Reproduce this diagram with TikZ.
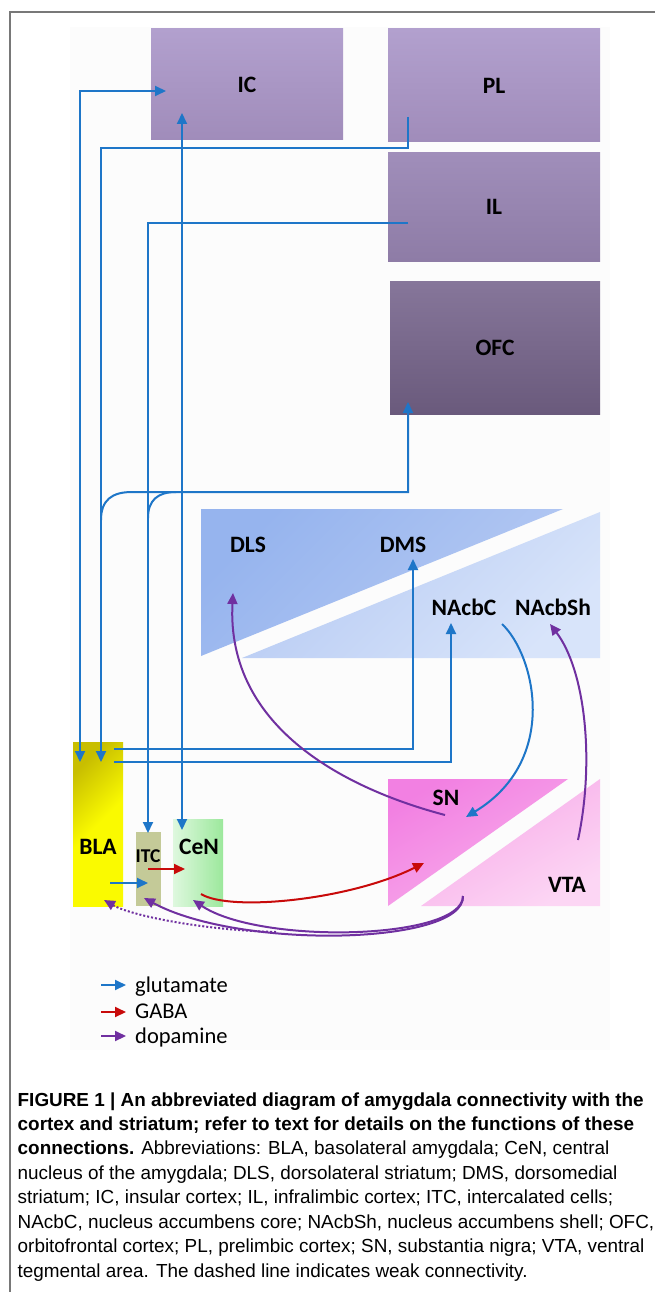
\documentclass[tikz,border=0pt]{standalone}
\usepackage{fontspec}
\setmainfont{Carlito}
\newfontfamily\capfont{Liberation Sans}
\usetikzlibrary{arrows.meta,calc}
\definecolor{glublue}{RGB}{30,118,200}
\definecolor{gabared}{RGB}{200,10,10}
\definecolor{dopapurple}{RGB}{112,48,160}
\definecolor{frameg}{RGB}{120,120,120}
\definecolor{cortextop}{RGB}{178,160,206}
\definecolor{cortexbot}{RGB}{160,140,186}
\definecolor{iltop}{RGB}{160,142,186}
\definecolor{ilbot}{RGB}{142,124,166}
\definecolor{ofctop}{RGB}{134,118,154}
\definecolor{ofcbot}{RGB}{106,90,124}
\definecolor{stridark}{RGB}{150,180,238}
\definecolor{strimid}{RGB}{182,202,243}
\definecolor{strilight}{RGB}{216,228,250}
\definecolor{sndark}{RGB}{242,128,226}
\definecolor{snlight}{RGB}{248,176,236}
\definecolor{vtadark}{RGB}{247,168,232}
\definecolor{vtalight}{RGB}{252,214,244}
\definecolor{blaolive}{RGB}{200,190,0}
\definecolor{blayellow}{RGB}{250,250,0}
\definecolor{itcgreen}{RGB}{196,202,152}
\definecolor{cenlight}{RGB}{222,248,222}
\definecolor{cendark}{RGB}{156,232,156}
\tikzset{
  region/.style={draw=none,inner sep=0pt,font=\bfseries\fontsize{23.5}{26}\selectfont},
  lbl/.style={inner sep=0pt,font=\bfseries\fontsize{23.5}{26}\selectfont},
  legtxt/.style={anchor=base west,inner sep=0pt,font=\fontsize{22.5}{25}\selectfont},
  glu/.style={draw=glublue,line width=2pt},
  gaba/.style={draw=gabared,line width=2pt},
  dopa/.style={draw=dopapurple,line width=2pt},
  >={Triangle[length=11pt,width=10pt]}
}

\begin{document}
\begin{tikzpicture}[x=1pt,y=-1pt]
\useasboundingbox[fill=white] (0,0) rectangle (655,1292);
\fill[gray!2] (70,27) rectangle (610,1050);
\draw[frameg,line width=1.5pt] (655,12) -- (10,12) -- (10,1292);

% cortex
\node[region,top color=cortextop,bottom color=cortexbot,minimum width=192pt,minimum height=111pt] (ic) at (247,84.5) {IC};
\node[region,top color=cortextop,bottom color=cortexbot,minimum width=212pt,minimum height=113pt] (pl) at (494,85.5) {PL};
\node[region,top color=iltop,bottom color=ilbot,minimum width=212pt,minimum height=108pt] (il) at (494,207) {IL};
\node[region,top color=ofctop,bottom color=ofcbot,minimum width=210pt,minimum height=133pt] (ofc) at (495,347.5) {OFC};

% striatum
\shade[top color=stridark,bottom color=strimid,shading angle=45] (201,509) -- (563,509) -- (201,656) -- cycle;
\shade[top color=strimid,bottom color=strilight,shading angle=45] (242,658) -- (600,512) -- (600,658) -- cycle;
\node[lbl] (dls) at (248,545) {DLS};
\node[lbl] (dms) at (403,545) {DMS};
\node[lbl] (nacbc) at (464,607) {NAcbC};
\node[lbl] (nacbsh) at (553,607) {NAcbSh};

% midbrain
\shade[top color=sndark,bottom color=snlight,shading angle=30] (388,779) -- (568,779) -- (388,906) -- cycle;
\shade[top color=vtadark,bottom color=vtalight,shading angle=30] (421,906) -- (600,779) -- (600,906) -- cycle;
\node[lbl] (sn) at (446,798) {SN};
\node[lbl] (vta) at (567,885) {VTA};

% amygdala
\node[region,top color=blaolive,bottom color=blayellow,middle color=blayellow,shading angle=45,minimum width=50pt,minimum height=164pt] (bla) at (98,824) {};
\node[region,fill=itcgreen,minimum width=25pt,minimum height=74pt] (itc) at (148.5,869) {};
\node[region,left color=cenlight,right color=cendark,minimum width=50pt,minimum height=87pt] (cen) at (198,862.5) {};
\node[lbl] (blatxt) at (98,847) {BLA};
\node[lbl,font=\bfseries\fontsize{19.5}{22}\selectfont] (itctxt) at (148,856) {ITC};
\node[lbl] (centxt) at (199,847) {CeN};

% connector ends
\coordinate (ic-in1) at (166,91);
\coordinate (ic-in2) at (182,113);
\coordinate (pl-out) at (408,117);
\coordinate (il-out) at (408,223);
\coordinate (ofc-in) at (408,402);
\coordinate (dms-in) at (413,559);
\coordinate (nacbc-in) at (451,623);
\coordinate (nacbc-out) at (502,624);
\coordinate (nacbsh-in) at (550,624);
\coordinate (dls-in) at (233,593);
\coordinate (sn-in1) at (466,817);
\coordinate (sn-in2) at (424,863);
\coordinate (sn-out) at (445,815);
\coordinate (vta-out1) at (578,840);
\coordinate (vta-out2) at (463,896);
\coordinate (bla-in1) at (80,762);
\coordinate (bla-in2) at (101,762);
\coordinate (bla-in3) at (104,900);
\coordinate (bla-out1) at (114,749);
\coordinate (bla-out2) at (114,762);
\coordinate (bla-out3) at (110,883);
\coordinate (bla-up) at (101,520);
\coordinate (itc-up) at (148,518);
\coordinate (itc-in1) at (148,833);
\coordinate (itc-in2) at (148,883);
\coordinate (itc-in3) at (144,898);
\coordinate (itc-out) at (148,869);
\coordinate (cen-in1) at (182,830);
\coordinate (cen-in2) at (185,869);
\coordinate (cen-in3) at (193,900);
\coordinate (cen-out) at (201,894);
\coordinate (dotstart) at (276,932);

% glutamate
\draw[glu,<->] (bla-in1) |- (ic-in1);
\draw[glu,->] (pl-out) -- ++(0,31) -| (bla-in2);
\draw[glu,->] (il-out) -| (itc-in1);
\draw[glu,<->] (ic-in2) -- (cen-in1);
\draw[glu,->] (bla-up) .. controls (101,500) and (112,492) .. (132,492) -| (ofc-in);
\draw[glu] (itc-up) .. controls (148,500) and (158,492) .. (176,492);
\draw[glu,->] (bla-out1) -| (dms-in);
\draw[glu,->] (bla-out2) -| (nacbc-in);
\draw[glu,->] (nacbc-out) .. controls (535,655) and (560,760) .. (sn-in1);
\draw[glu,->] (bla-out3) -- (itc-in2);

% GABA
\draw[gaba,->] (itc-out) -- (cen-in2);
\draw[gaba,->] (cen-out) .. controls (230,912) and (350,900) .. (sn-in2);

% dopamine
\draw[dopa,->] (sn-out) .. controls (350,790) and (226,730) .. (dls-in);
\draw[dopa,->] (vta-out1) .. controls (595,760) and (585,670) .. (nacbsh-in);
\draw[dopa,->] (vta-out2) .. controls (465,945) and (240,950) .. (itc-in3);
\draw[dopa,->] (vta-out2) .. controls (463,940) and (260,945) .. (cen-in3);
\draw[dopa,->,dash pattern=on 2pt off 2pt] (dotstart) .. controls (200,930) and (130,915) .. (bla-in3);

% legend
\draw[glu,->] (101,985) -- (126,985);
\draw[gaba,->] (101,1012) -- (126,1012);
\draw[dopa,->] (101,1036) -- (126,1036);
\node[legtxt] (legglu) at (135,992) {glutamate};
\node[legtxt] (leggaba) at (135,1018) {GABA};
\node[legtxt] (legdopa) at (135,1043) {dopamine};

% caption (base = last line)
\node[anchor=base west,inner sep=0pt,align=left,font=\capfont\fontsize{18.9}{24.43}\selectfont] (caption) at (17.5,1277) {%
\textbf{FIGURE 1 | An abbreviated diagram of amygdala connectivity with the}\\
\textbf{cortex and striatum; refer to text for details on the functions of these}\\
\textbf{connections.} Abbreviations: BLA, basolateral amygdala; CeN, central\\
nucleus of the amygdala; DLS, dorsolateral striatum; DMS, dorsomedial\\
striatum; IC, insular cortex; IL, infralimbic cortex; ITC, intercalated cells;\\
NAcbC, nucleus accumbens core; NAcbSh, nucleus accumbens shell; OFC,\\
orbitofrontal cortex; PL, prelimbic cortex; SN, substantia nigra; VTA, ventral\\
tegmental area. The dashed line indicates weak connectivity.};
\end{tikzpicture}
\end{document}
